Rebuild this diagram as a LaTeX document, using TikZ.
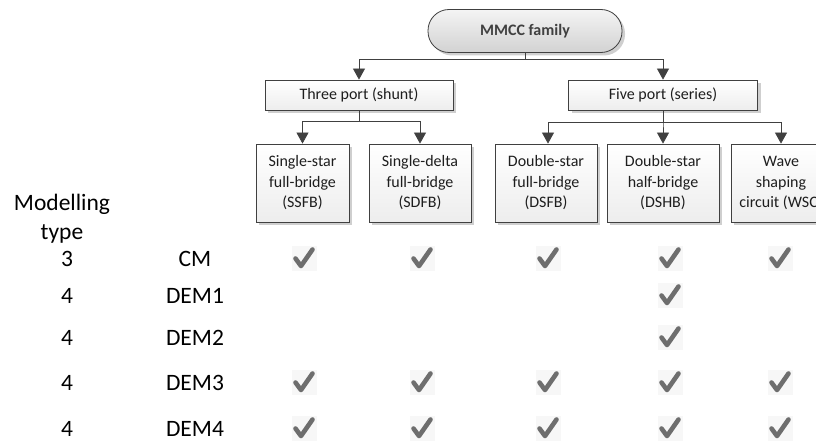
\documentclass[tikz,border=0pt]{standalone}
\usepackage{fontspec}
\setmainfont{Carlito}
\usepackage{xcolor}
\usepackage{tikz}
\usetikzlibrary{arrows.meta, positioning, shadows}
\definecolor{trait}{HTML}{404040}
\definecolor{texte}{HTML}{1E1E1E}
\definecolor{ombre}{HTML}{CFCFCF}
\definecolor{capsulehaut}{HTML}{F4F4F4}
\definecolor{capsulebas}{HTML}{D2D2D2}
\definecolor{boitebas}{HTML}{EDEDED}
\definecolor{gris}{HTML}{6E6E6E}
\tikzset{
  bloc/.style={rectangle, draw=trait, line width=0.8pt, top color=white,
    bottom color=boitebas, text=texte, font=\fontsize{16}{20.5}\selectfont,
    align=center, inner sep=0pt,
    drop shadow={shadow xshift=3pt, shadow yshift=-3pt, fill=ombre, opacity=1}},
  capsule/.style={bloc, rounded corners=21pt, top color=capsulehaut,
    bottom color=capsulebas, text=trait, font=\fontsize{16}{20}\selectfont\bfseries,
    minimum width=194pt, minimum height=43pt},
  port/.style={bloc, minimum height=30pt},
  feuille/.style={bloc, minimum height=78pt},
  fleche/.style={-{Triangle[length=11pt, width=12pt]}, line width=0.8pt, color=trait},
  etiquette/.style={font=\fontsize{23.5}{29}\selectfont, text=black, align=center, inner sep=0pt},
}

\begin{document}
\begin{tikzpicture}[x=1pt, y=-1pt,
    coche/.style={minimum size=25pt, inner sep=0pt, fill=black!3,
      path picture={\draw[gris, line width=4.6pt, line cap=round, line join=round]
        ([shift={(-8.5pt,-0.5pt)}]path picture bounding box.center)
        -- ([shift={(-3pt,-8pt)}]path picture bounding box.center)
        -- ([shift={(8.5pt,8.5pt)}]path picture bounding box.center);}}]
  \useasboundingbox (0,0) rectangle (816,441);
  \clip (0,0) rectangle (816,441);

  % Arbre des familles
  \node[capsule] (famille) at (525,31) {MMCC family};
  \node[port, minimum width=188pt] (trois) at (359,95) {Three port (shunt)};
  \node[port, minimum width=189pt] (cinq) at (663,95) {Five port (series)};

  \node[feuille, minimum width=93pt] (ssfb) at (302.5,183) {Single-star\\full-bridge\\(SSFB)};
  \node[feuille, minimum width=102pt] (sdfb) at (420,183) {Single-delta\\full-bridge\\(SDFB)};
  \node[feuille, minimum width=102pt] (dsfb) at (546,183) {Double-star\\full-bridge\\(DSFB)};
  \node[feuille, minimum width=112pt] (dshb) at (663,183) {Double-star\\half-bridge\\(DSHB)};
  \node[feuille, minimum width=100pt] (wsc) at (781,183) {Wave\\shaping\\circuit (WSC)};

  % Liaisons
  \coordinate (j0) at (525,59);
  \coordinate (j1) at (359,121);
  \coordinate (j2) at (663,122);
  \draw[fleche] (famille.south) -- (j0) -| (trois.north);
  \draw[fleche] (famille.south) -- (j0) -| (cinq.north);
  \foreach \fille in {ssfb, sdfb}
    \draw[fleche] (trois.south) -- (j1) -| (\fille.north);
  \draw[fleche] (cinq.south) -- (j2) -| ([xshift=2pt]dsfb.north);
  \draw[fleche] (cinq.south) -- (j2) -| (dshb.north);
  \draw[fleche] (cinq.south) -- (j2) -| (wsc.north);

  % Tableau des modeles
  \node[etiquette] (titre) at (62,219) {Modelling\\type};
  \foreach \y/\num/\nom/\cols in {
      259/3/CM/{304,422,548,670,780},
      296/4/DEM1/{670},
      338/4/DEM2/{670},
      383/4/DEM3/{304,422,548,670,780},
      429/4/DEM4/{304,422,548,670,780}} {
    \node[etiquette] (n-\nom) at (67,\y) {\num};
    \node[etiquette] (m-\nom) at (195,\y) {\nom};
    \foreach \cx in \cols
      \node[coche] (c-\nom-\cx) at (\cx,\y-1) {};
  }
\end{tikzpicture}
\end{document}
